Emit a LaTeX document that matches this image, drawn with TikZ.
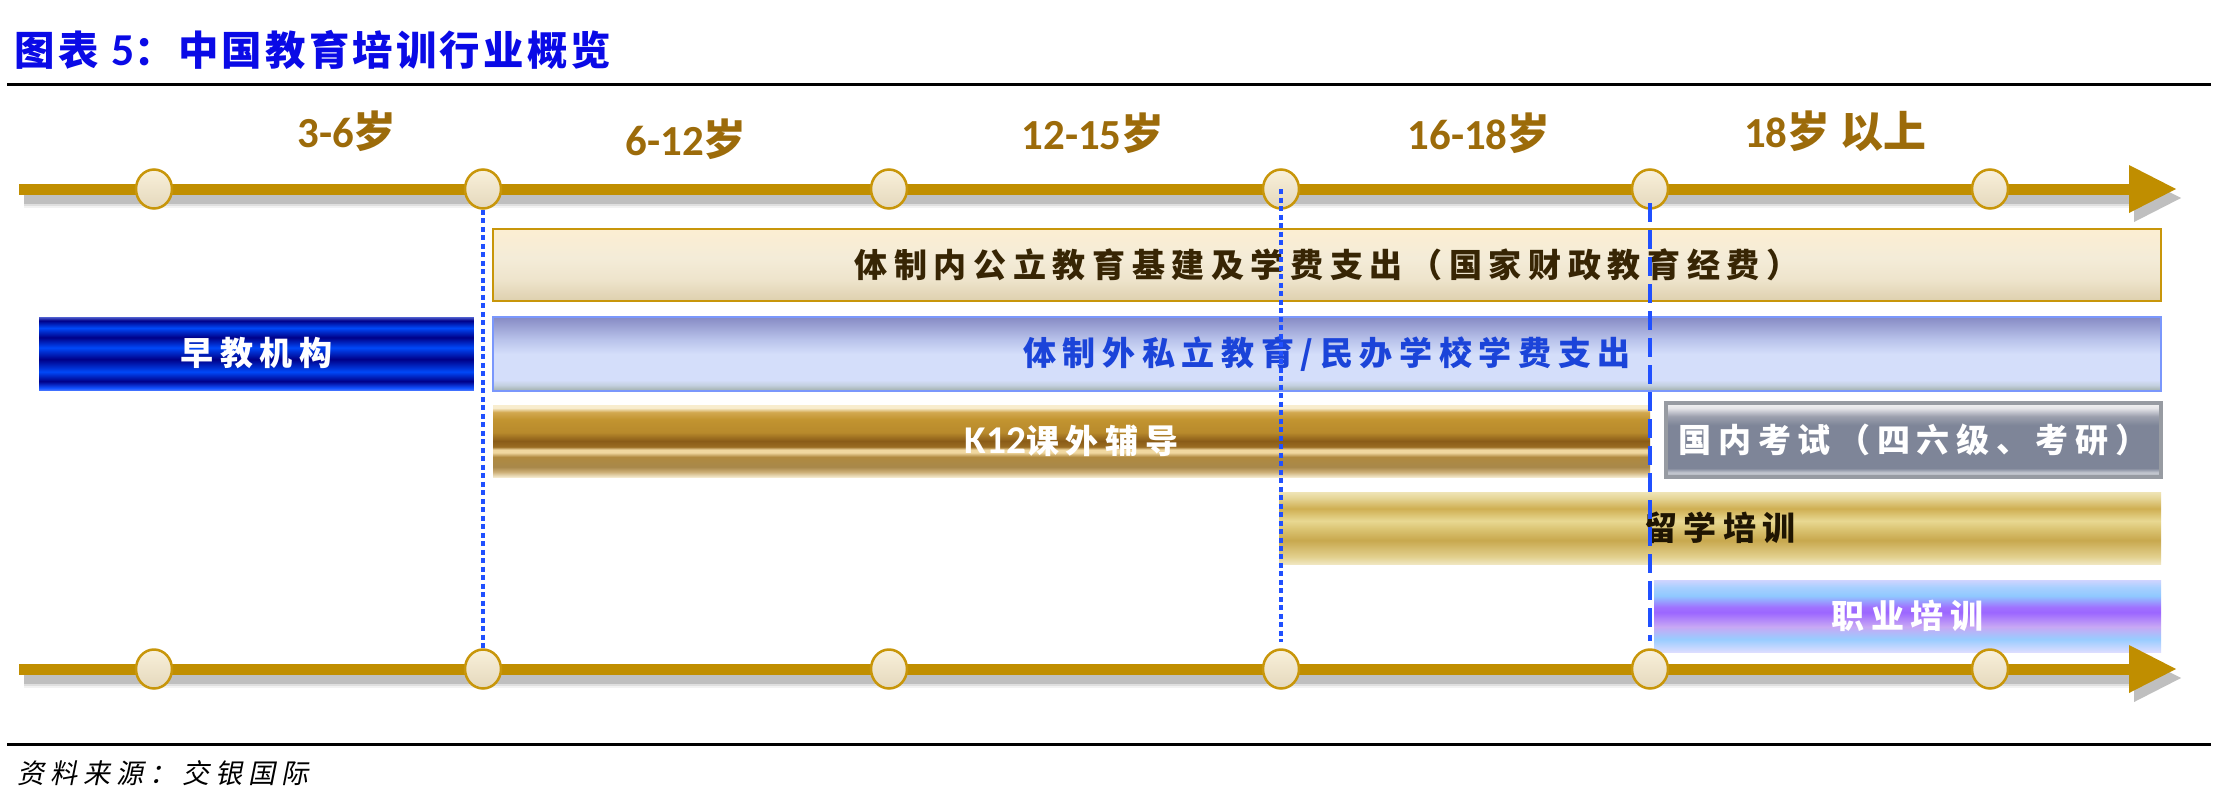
\documentclass[tikz,border=0pt]{standalone}
\usepackage{fontspec}
\setmainfont{Carlito}
\newfontfamily\cjk{Noto Sans CJK SC}
\newfontfamily\cjktit[LetterSpace=8]{Noto Sans CJK SC}
\newfontfamily\cjkband[LetterSpace=20]{Noto Sans CJK SC}
\newfontfamily\cjksrc[LetterSpace=22,FakeSlant=0.2]{Noto Sans CJK SC}
\usetikzlibrary{arrows.meta, shapes.geometric, positioning}
\definecolor{ttitle}{HTML}{0A0AE6}
\definecolor{tgold}{HTML}{C08E00}
\definecolor{tbrown}{HTML}{9C6B0A}
\definecolor{gblue}{HTML}{2050FF}
\definecolor{kcream}{HTML}{F9F0DA}
\definecolor{kcreamd}{HTML}{E4D8BC}
\definecolor{kborder}{HTML}{C8960A}
% colori delle fasce
\definecolor{be0}{HTML}{DED0AE}\definecolor{be1}{HTML}{EEE4CC}
\definecolor{be2}{HTML}{F4ECD8}\definecolor{be3}{HTML}{FCEED2}
\definecolor{bs0}{HTML}{4070FF}\definecolor{bs1}{HTML}{1050FF}
\definecolor{bs2}{HTML}{000088}\definecolor{bs3}{HTML}{0048F8}
\definecolor{bs4}{HTML}{5060D0}
\definecolor{pv0}{HTML}{A0AEA8}\definecolor{pv1}{HTML}{C4D0E0}
\definecolor{pv2}{HTML}{D4DEFA}\definecolor{pv3}{HTML}{B8C2EA}
\definecolor{pv4}{HTML}{868AC4}
\definecolor{k1}{HTML}{F3E8CC}\definecolor{k2}{HTML}{CDB078}
\definecolor{k3}{HTML}{A8884A}\definecolor{k4}{HTML}{B08A40}
\definecolor{k5}{HTML}{F0D8A0}\definecolor{k6}{HTML}{9A6C22}
\definecolor{k7}{HTML}{8A5C18}\definecolor{k8}{HTML}{B88A2C}
\definecolor{k9}{HTML}{C29430}\definecolor{k10}{HTML}{D2A850}
\definecolor{k11}{HTML}{F8EDCF}
\definecolor{g0}{HTML}{A8ACB4}\definecolor{g1}{HTML}{C4C8D0}
\definecolor{g2}{HTML}{7E8598}\definecolor{g3}{HTML}{9CA0AE}
\definecolor{g4}{HTML}{E4E4E8}\definecolor{g5}{HTML}{F4F4F4}
\definecolor{s0}{HTML}{F0E6C0}\definecolor{s1}{HTML}{E2D08E}
\definecolor{s2}{HTML}{C8A84E}\definecolor{s3}{HTML}{DCC676}
\definecolor{s4}{HTML}{E8D892}\definecolor{s5}{HTML}{CFAF52}
\definecolor{s6}{HTML}{E6D698}\definecolor{s7}{HTML}{EFE4B6}
\definecolor{v0}{HTML}{DCDDFF}\definecolor{v1}{HTML}{98CCFF}
\definecolor{v2}{HTML}{C8A8F4}\definecolor{v3}{HTML}{9C66FF}
\definecolor{v4}{HTML}{A070FF}\definecolor{v5}{HTML}{90C8FF}
\definecolor{v6}{HTML}{A8D0FF}\definecolor{v7}{HTML}{D0D4FF}
% sfumature verticali (25bp = fondo, 75bp = cima)
\pgfdeclareverticalshading{shbeige}{100bp}{color(0bp)=(be0); color(25bp)=(be0);
  color(40bp)=(be1); color(55bp)=(be2); color(75bp)=(be3); color(100bp)=(be3)}
\pgfdeclareverticalshading{shstripe}{100bp}{color(0bp)=(bs0); color(25bp)=(bs0);
  color(26.5bp)=(bs1); color(31bp)=(bs2); color(37.5bp)=(bs3); color(46bp)=(bs2);
  color(54bp)=(bs3); color(61bp)=(bs2); color(67.5bp)=(bs3); color(72.5bp)=(bs2);
  color(75bp)=(bs4); color(100bp)=(bs4)}
\pgfdeclareverticalshading{shprivate}{100bp}{color(0bp)=(pv0); color(25bp)=(pv0);
  color(29bp)=(pv1); color(32.5bp)=(pv2); color(50bp)=(pv2); color(60bp)=(pv3);
  color(75bp)=(pv4); color(100bp)=(pv4)}
\pgfdeclareverticalshading{shktwelve}{100bp}{color(0bp)=(k1); color(25bp)=(k1);
  color(28.5bp)=(k2); color(32bp)=(k3); color(39bp)=(k4); color(42bp)=(k5);
  color(44bp)=(k5); color(46bp)=(k6); color(50bp)=(k7); color(56bp)=(k8);
  color(65bp)=(k9); color(70bp)=(k10); color(73bp)=(k11); color(100bp)=(k11)}
\pgfdeclareverticalshading{shgray}{100bp}{color(0bp)=(g0); color(25bp)=(g0);
  color(28bp)=(g1); color(31bp)=(g2); color(60bp)=(g2); color(66bp)=(g3);
  color(71.5bp)=(g4); color(75bp)=(g5); color(100bp)=(g5)}
\pgfdeclareverticalshading{shstudy}{100bp}{color(0bp)=(s0); color(25bp)=(s0);
  color(30bp)=(s1); color(41.5bp)=(s2); color(50bp)=(s3); color(55bp)=(s4);
  color(63.5bp)=(s5); color(71bp)=(s6); color(75bp)=(s7); color(100bp)=(s7)}
\pgfdeclareverticalshading{shvoc}{100bp}{color(0bp)=(v0); color(25bp)=(v0);
  color(34bp)=(v1); color(42.5bp)=(v2); color(52.5bp)=(v3); color(56bp)=(v4);
  color(64bp)=(v5); color(70bp)=(v6); color(75bp)=(v7); color(100bp)=(v7)}
\tikzset{
  % asse dei tempi
  timeline/.style={draw=tgold, line width=1.1mm,
    -{Triangle[length=4.7mm, width=4.8mm, line width=0pt]}},
  timeshadow/.style={draw=black, -{Triangle[length=4.7mm, width=4.8mm, line width=0pt]}},
  knode/.style={ellipse, minimum width=3.6mm, minimum height=3.9mm, inner sep=0pt,
    draw=kborder, line width=0.25mm, top color=kcream, bottom color=kcreamd},
  agelbl/.style={inner sep=0pt, text=tbrown, font=\bfseries\fontsize{12.2}{13}\selectfont},
  % fasce
  band/.style={rectangle, anchor=north west, inner sep=0pt, outer sep=0pt, shade,
    minimum height=7.2mm, font=\cjkband\bfseries\fontsize{9.4}{10}\selectfont},
  band beige/.style={band, shading=shbeige, draw=kborder, line width=0.25mm, text=black!65!tbrown},
  band stripe/.style={band, shading=shstripe, text=white},
  band private/.style={band, shading=shprivate, draw=pv2!50!gblue, line width=0.25mm, text=gblue!85!black},
  band gold/.style={band, shading=shktwelve, text=white},
  band gray/.style={band, shading=shgray, draw=g0!90!black, line width=0.35mm, text=white},
  band study/.style={band, shading=shstudy, text=black!80!tbrown},
  band voc/.style={band, shading=shvoc, text=white},
  % linee guida verticali
  vguide/.style={draw=gblue, line width=0.45mm, dash pattern=on 0.5mm off 0.35mm},
  vguide long/.style={draw=gblue, line width=0.45mm, dash pattern=on 1.9mm off 0.8mm},
  rule/.style={draw=black, line width=0.3mm},
}
\begin{document}
\begin{tikzpicture}[x=0.1mm, y=-0.1mm]
  \path[use as bounding box, fill=white] (0,0) rectangle (2240,810);
  \node[anchor=west, inner sep=0pt, text=ttitle] (titolo) at (14,50)
    {\cjktit\bfseries\fontsize{11.5}{12}\selectfont 图表 {\rmfamily\fontsize{13}{14}\selectfont 5}：中国教育培训行业概览};
  \coordinate (r1a) at (7,84); \coordinate (r1b) at (2211,84);
  \coordinate (r2a) at (7,744); \coordinate (r2b) at (2211,744);
  \draw[rule] (r1a) -- (r1b);
  \draw[rule] (r2a) -- (r2b);
  \node[anchor=west, inner sep=0pt] (fonte) at (17,773)
    {\cjksrc\fontsize{7.7}{8}\selectfont 资料来源：交银国际};
  % fasce
  \node[band beige, minimum width=166.8mm] (pub) at (493,229) {体制内公立教育基建及学费支出（国家财政教育经费）};
  \node[band stripe, minimum width=43.5mm, minimum height=7.3mm] (early) at (39,317) {早教机构};
  \node[band private, minimum width=166.8mm, minimum height=7.4mm] (priv) at (493,317) {体制外私立教育/民办学校学费支出};
  \node[band gold, minimum width=115.7mm] (ktw) at (493,405) {{\rmfamily\fontsize{11.2}{12}\selectfont K12}课外辅导};
  \node[band gray, minimum width=49.5mm, minimum height=7.4mm] (exam) at (1666,403) {国内考试（四六级、考研）};
  \node[band study, minimum width=88.2mm] (abroad) at (1279,492) {留学培训};
  \node[band voc, minimum width=50.7mm] (voc) at (1654,580) {职业培训};
  % assi con i nodi
  \foreach \y/\n in {189/t, 669/b} {
    \coordinate (ax\n) at (19,\y); \coordinate (ar\n) at (2176,\y);
    \foreach \w/\o in {1.9/0.05, 1.5/0.08, 1.1/0.14}
      \draw[timeshadow, line width=\w mm, opacity=\o] ([shift={(5,9)}]ax\n) -- ([shift={(5,9)}]ar\n);
    \draw[timeline] (ax\n) -- (ar\n);
    \foreach \x [count=\i] in {154,483,889,1281,1650,1990}
      \node[knode] (\n\i) at (\x,\y) {};
  }
  \foreach \x/\y/\t [count=\i] in {347/131/3-6, 686/139/6-12, 1093/133/12-15, 1479/133/16-18}
    \node[agelbl] (eta\i) at (\x,\y) {\t{\cjk 岁}};
  \node[agelbl] (eta5) at (1835,131) {18{\cjk 岁 以上}};
  % linee guida
  \draw[vguide] (t2.south) -- (b2.north);
  \draw[vguide, shorten >=0.6mm] (t4.center) -- (b4.north);
  \draw[vguide long, shorten <=1.4mm, shorten >=0.75mm] (t5.center) -- (b5.north);
\end{tikzpicture}
\end{document}
